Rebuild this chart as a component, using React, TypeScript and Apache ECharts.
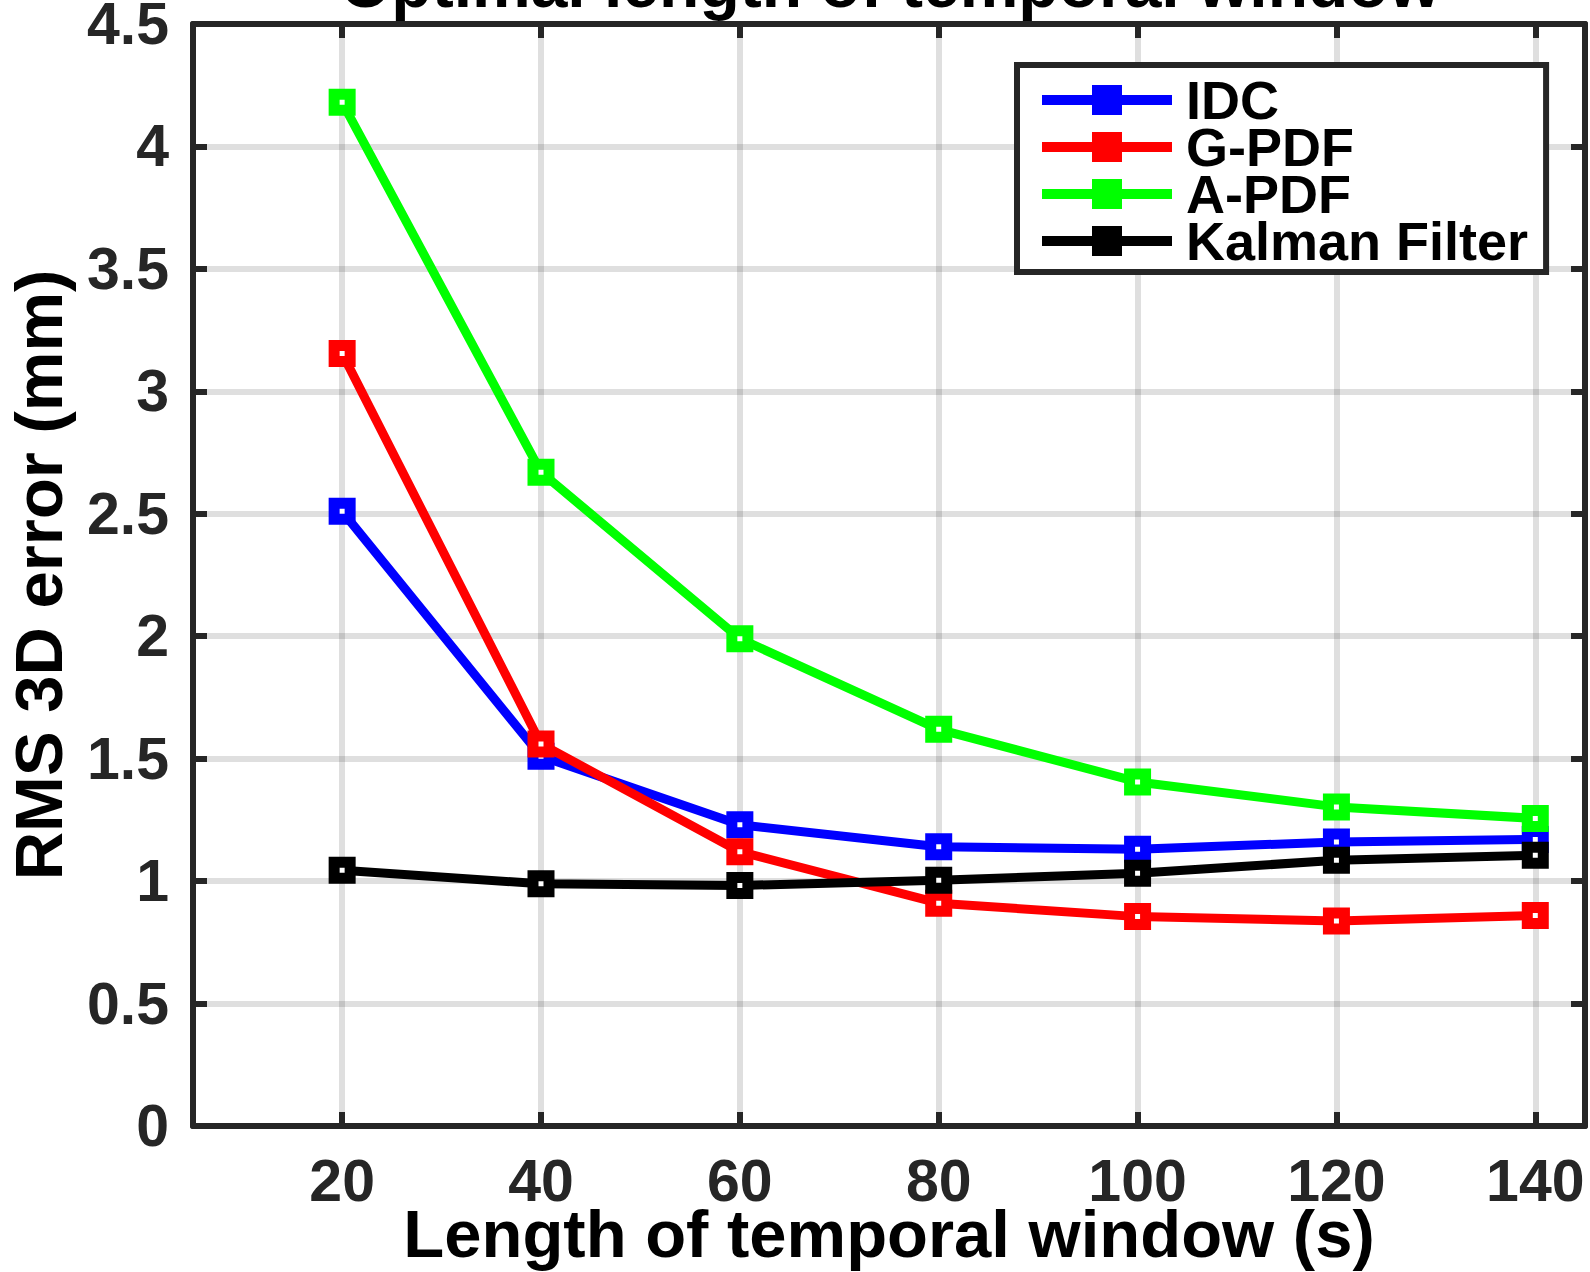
import React, { useEffect, useRef } from 'react';
import * as echarts from 'echarts';

const windowLengths = [20, 40, 60, 80, 100, 120, 140];
const idcValues = [2.51, 1.51, 1.23, 1.14, 1.13, 1.16, 1.17];
const gpdfValues = [3.155, 1.56, 1.12, 0.91, 0.855, 0.837, 0.86];
const apdfValues = [4.18, 2.67, 1.99, 1.62, 1.405, 1.303, 1.256];
const kalmanValues = [1.044, 0.989, 0.982, 1.004, 1.032, 1.085, 1.106];

const seriesNames = ['IDC', 'G-PDF', 'A-PDF', 'Kalman Filter'];
const seriesValues = [idcValues, gpdfValues, apdfValues, kalmanValues];
const seriesColors = ['#0000ff', '#ff0000', '#00ff00', '#000000'];
const xTickValues = [20, 40, 60, 80, 100, 120, 140];

const titleText = 'Optimal length of temporal window';
const xAxisTitle = 'Length of temporal window (s)';
const yAxisTitle = 'RMS 3D error (mm)';

const FONT = "'Liberation Sans', Arial, Helvetica, sans-serif";
const AXIS_COLOR = '#262626';
const GRID_COLOR = 'rgba(38,38,38,0.15)';
const LEGEND_ICON = 'path://M0,10 H50 V0 H80 V10 H130 V20 H80 V30 H50 V20 H0 Z';

export default function App() {
  const ref = useRef<HTMLDivElement>(null);

  useEffect(() => {
    const chart = echarts.init(ref.current as HTMLDivElement, null, { renderer: 'svg' });

    const tickStyle = { inside: true, length: 14, lineStyle: { color: AXIS_COLOR, width: 6 } };
    const axisLine = { show: true, onZero: false, lineStyle: { color: AXIS_COLOR, width: 6 } };
    const labelStyle = { fontFamily: FONT, fontWeight: 'bold' as const, fontSize: 59, color: AXIS_COLOR };

    const option: any = {
      animation: false,
      backgroundColor: '#ffffff',
      grid: { left: 193, right: 5, top: 24, bottom: 146, containLabel: false, outerBoundsMode: 'none' },
      graphic: [
        {
          type: 'text',
          x: 890,
          y: -16,
          style: {
            text: titleText,
            fontFamily: FONT,
            fontWeight: 'bold',
            fontSize: 66,
            fill: '#000000',
            textAlign: 'center',
            textVerticalAlign: 'middle',
          },
        },
      ],
      xAxis: [
        {
          type: 'value',
          position: 'bottom',
          min: 5,
          max: 145,
          axisLine,
          axisTick: { ...tickStyle, customValues: xTickValues },
          axisLabel: { ...labelStyle, margin: 25, customValues: xTickValues },
          splitLine: { show: true, lineStyle: { color: GRID_COLOR, width: 6 } },
          name: xAxisTitle,
          nameLocation: 'middle',
          nameGap: 74,
          nameMoveOverlap: false,
          nameTextStyle: { fontFamily: FONT, fontWeight: 'bold', fontSize: 67, color: '#000000' },
        },
        {
          type: 'value',
          position: 'top',
          min: 5,
          max: 145,
          axisLine,
          axisTick: { ...tickStyle, customValues: xTickValues },
          axisLabel: { show: false },
          splitLine: { show: false },
        },
      ],
      yAxis: [
        {
          type: 'value',
          position: 'left',
          min: 0,
          max: 4.5,
          interval: 0.5,
          axisLine,
          axisTick: tickStyle,
          axisLabel: { ...labelStyle, margin: 24 },
          splitLine: { show: true, lineStyle: { color: GRID_COLOR, width: 6 } },
          name: yAxisTitle,
          nameLocation: 'middle',
          nameGap: 121,
          nameMoveOverlap: false,
          nameRotate: 90,
          nameTextStyle: { fontFamily: FONT, fontWeight: 'bold', fontSize: 67, color: '#000000' },
        },
        {
          type: 'value',
          position: 'right',
          min: 0,
          max: 4.5,
          interval: 0.5,
          axisLine,
          axisTick: tickStyle,
          axisLabel: { show: false },
          splitLine: { show: false },
        },
      ],
      legend: {
        orient: 'vertical',
        left: 1017,
        top: 65,
        padding: [8, 18, 4, 25],
        itemGap: -7,
        itemWidth: 130,
        itemHeight: 30,
        selectedMode: false,
        backgroundColor: '#ffffff',
        borderColor: AXIS_COLOR,
        borderWidth: 6,
        borderRadius: 0,
        textStyle: {
          fontFamily: FONT,
          fontWeight: 'bold',
          fontSize: 54,
          color: '#000000',
          padding: [0, 0, 0, 9],
        },
        data: seriesNames.map((name, i) => ({
          name,
          icon: LEGEND_ICON,
          itemStyle: { color: seriesColors[i], borderColor: seriesColors[i], borderWidth: 0 },
        })),
      },
      series: seriesNames.map((name, i) => ({
        name,
        type: 'line',
        xAxisIndex: 0,
        yAxisIndex: 0,
        data: windowLengths.map((x, j) => [x, seriesValues[i][j]]),
        symbol: 'rect',
        symbolSize: 16,
        showAllSymbol: true,
        itemStyle: { color: '#ffffff', borderColor: seriesColors[i], borderWidth: 11 },
        lineStyle: { color: seriesColors[i], width: 9 },
        emphasis: { disabled: true },
        z: 2 + i,
      })),
    };

    chart.setOption(option);
    return () => chart.dispose();
  }, []);

  return (
    <div
      ref={ref}
      style={{ position: 'absolute', left: 0, top: 0, width: 1590, height: 1272, background: '#ffffff' }}
    />
  );
}
